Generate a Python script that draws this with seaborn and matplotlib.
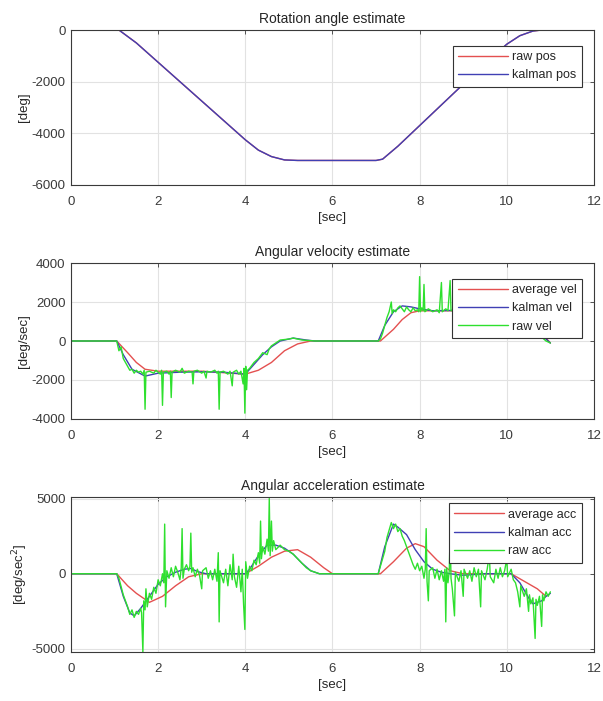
import matplotlib
matplotlib.use('Agg')
import matplotlib.pyplot as plt
import seaborn as sns

# Colours (MATLAB-ish)
RED = '#e45050'
BLUE = '#4040b4'
GREEN = '#2ee02e'

# -------------------------------------------------------------------------
# Data
# -------------------------------------------------------------------------
# Rotation angle [deg]
pos_t = [0, 1.1, 1.5, 2.0, 2.5, 3.0, 3.5, 4.0, 4.3, 4.6, 4.9, 5.2, 6.0, 7.0, 7.15,
         7.5, 8.0, 8.5, 9.0, 9.5, 10.0, 10.3, 10.6, 10.8, 11.0]
pos_raw = [0, 0, -500, -1250, -2000, -2750, -3500, -4250, -4650, -4900, -5030, -5050,
           -5050, -5050, -5000, -4500, -3700, -2900, -2100, -1300, -550, -220, -40, 0, 0]
pos_kal = [0, 0, -500, -1250, -2000, -2750, -3500, -4250, -4650, -4900, -5030, -5050,
           -5050, -5050, -5000, -4500, -3700, -2900, -2100, -1300, -550, -220, -40, 0, 0]

# Angular velocity [deg/sec]
vel_avg_t = [0, 1.05, 1.3, 1.5, 1.7, 2.0, 3.0, 4.0, 4.3, 4.6, 4.9, 5.2, 5.5, 7.0, 7.1,
             7.4, 7.6, 7.8, 8.0, 9.0, 10.0, 10.3, 10.6, 10.8, 11.0]
vel_avg = [0, 0, -600, -1100, -1450, -1550, -1550, -1700, -1500, -1100, -500, -150, 0,
           0, 0, 600, 1100, 1450, 1550, 1550, 1600, 1550, 1000, 400, -100]
vel_kal_t = [0, 1.05, 1.2, 1.4, 1.7, 2.0, 2.5, 3.0, 3.5, 4.0, 4.2, 4.4, 4.6, 4.8, 5.1,
             5.4, 5.6, 7.0, 7.05, 7.2, 7.4, 7.6, 7.8, 8.0, 8.3, 9.0, 10.0, 10.4, 10.6,
             10.8, 11.0]
vel_kal = [0, 0, -700, -1450, -1800, -1650, -1600, -1580, -1600, -1700, -1200, -700,
           -300, 0, 150, 50, 0, 0, 0, 800, 1500, 1800, 1750, 1650, 1550, 1580, 1600,
           1400, 700, 300, -100]
vel_raw_pts = [
    (0, 0), (1.05, 0), (1.1, -500), (1.15, -300), (1.2, -900), (1.25, -1100),
    (1.3, -1300), (1.35, -1500), (1.4, -1450), (1.45, -1650), (1.5, -1500),
    (1.55, -1600), (1.6, -1550), (1.65, -1700), (1.68, -1500), (1.7, -3500),
    (1.72, -1600), (1.8, -1550), (1.9, -1650), (1.95, -1500), (2.0, -1600),
    (2.05, -1700), (2.08, -1500), (2.1, -3300), (2.12, -1600), (2.2, -1550),
    (2.25, -1700), (2.28, -1550), (2.3, -2900), (2.32, -1600), (2.4, -1500),
    (2.5, -1600), (2.55, -1400), (2.6, -1650), (2.7, -1550), (2.78, -1600),
    (2.8, -2200), (2.82, -1550), (2.9, -1500), (3.0, -1650), (3.05, -1550),
    (3.1, -1900), (3.12, -1550), (3.2, -1600), (3.3, -1500), (3.35, -1650),
    (3.38, -1550), (3.4, -3500), (3.42, -1600), (3.5, -1550), (3.6, -1700),
    (3.65, -1550), (3.7, -2300), (3.72, -1600), (3.8, -1500), (3.85, -1700),
    (3.9, -1550), (3.95, -2200), (3.97, -1400), (3.99, -3700), (4.01, -1300),
    (4.03, -2500), (4.05, -1500), (4.1, -1400), (4.2, -1100), (4.3, -900),
    (4.4, -600), (4.5, -700), (4.55, -400), (4.6, -250), (4.7, -100), (4.8, 50),
    (5.0, 100), (5.1, 150), (5.3, 50), (5.6, 0), (7.05, 0),
    (7.1, 100), (7.15, 400), (7.2, 800), (7.25, 1200), (7.3, 1500), (7.35, 2000),
    (7.37, 1400), (7.4, 1600), (7.45, 1500), (7.5, 1700), (7.55, 1800),
    (7.6, 1650), (7.65, 1500), (7.7, 1750), (7.75, 1600), (7.8, 1500),
    (7.85, 1700), (7.9, 1550), (7.95, 1600), (7.98, 1500), (8.0, 3300),
    (8.02, 1500), (8.05, 1700), (8.08, 1550), (8.1, 2900), (8.12, 1500),
    (8.2, 1650), (8.3, 1500), (8.4, 1600), (8.45, 1450), (8.5, 3000),
    (8.52, 1500), (8.6, 1650), (8.65, 1550), (8.7, 3100), (8.72, 1550),
    (8.8, 1600), (9.0, 1500), (9.2, 1650), (9.4, 1550), (9.6, 1600), (9.8, 1550),
    (10.0, 1600), (10.2, 1500), (10.4, 1300), (10.5, 1000), (10.6, 700),
    (10.7, 400), (10.8, 200), (10.9, 0), (11.0, -100),
]

# Angular acceleration [deg/sec^2]
acc_avg_t = [0, 1.05, 1.3, 1.5, 1.8, 2.1, 2.4, 2.7, 3.0, 4.0, 4.3, 4.6, 4.9, 5.2, 5.5,
             5.8, 6.0, 7.1, 7.4, 7.7, 7.9, 8.1, 8.4, 8.7, 9.0, 10.1, 10.4, 10.7, 10.9]
acc_avg = [0, 0, -800, -1300, -1900, -1500, -800, -200, 0, 0, 500, 1100, 1500, 1600,
           1100, 400, 0, 0, 800, 1700, 2000, 1800, 900, 200, 0, 0, -500, -1000, -1500]
acc_kal_t = [0, 1.05, 1.2, 1.35, 1.45, 1.6, 1.8, 2.0, 2.2, 2.4, 2.6, 2.75, 2.9, 3.1,
             4.0, 4.1, 4.3, 4.5, 4.7, 4.9, 5.1, 5.3, 5.5, 5.7, 7.0, 7.05, 7.2, 7.4, 7.5,
             7.7, 7.9, 8.1, 8.3, 8.5, 8.7, 9.0, 9.5, 10.1, 10.3, 10.5, 10.6, 10.8,
             10.9, 11.0]
acc_kal = [0, 0, -1500, -2600, -2800, -2300, -1500, -700, -200, 100, 300, 350, 150, 0,
           0, 300, 1200, 1900, 1900, 1700, 1300, 700, 200, 0, 0, 0, 1800, 3300, 3100,
           2600, 1600, 800, 300, 100, 0, -100, 0, 0, -600, -1600, -2000, -1800, -1500,
           -1300]
acc_raw_pts = [
    (0, 0), (1.05, 0), (1.1, -300), (1.2, -1400), (1.3, -2200), (1.35, -2700),
    (1.4, -2400), (1.45, -2900), (1.5, -2500), (1.55, -2700), (1.6, -2300),
    (1.62, -2600), (1.65, -5200), (1.67, -1800), (1.7, -2400), (1.72, -1000),
    (1.75, -2200), (1.8, -1300), (1.85, -1700), (1.9, -900), (1.95, -1300),
    (2.0, -400), (2.05, -800), (2.1, 0), (2.13, -600), (2.15, 3300), (2.17, -2200),
    (2.2, 200), (2.25, -300), (2.3, 400), (2.35, -200), (2.4, 500), (2.45, 100),
    (2.5, -400), (2.53, 400), (2.55, 3000), (2.57, -300), (2.6, 300), (2.65, 600),
    (2.7, 200), (2.73, 500), (2.75, 2700), (2.77, 100), (2.8, 400), (2.85, -200),
    (2.9, 300), (2.95, -100), (3.0, -1000), (3.02, 200), (3.1, 400), (3.15, -300),
    (3.2, 200), (3.25, -400), (3.3, 300), (3.35, -500), (3.38, 1400), (3.4, -3200),
    (3.42, 200), (3.5, -600), (3.55, 300), (3.6, -800), (3.65, 600), (3.7, -400),
    (3.72, 1300), (3.75, -200), (3.8, -900), (3.85, 500), (3.9, -1200),
    (3.93, 300), (3.96, -2000), (3.99, -3700), (4.01, 800), (4.05, -300),
    (4.1, 500), (4.15, 200), (4.2, 900), (4.25, 600), (4.3, 1400), (4.33, 700),
    (4.35, 3500), (4.37, 1000), (4.4, 1800), (4.45, 1300), (4.5, 2300),
    (4.53, 1500), (4.55, 5000), (4.57, 1200), (4.6, 3500), (4.62, 1500),
    (4.65, 2200), (4.7, 1600), (4.8, 1900), (4.9, 1600), (5.0, 1500), (5.1, 1300),
    (5.2, 1000), (5.3, 700), (5.4, 400), (5.5, 200), (5.7, 0), (7.05, 0),
    (7.1, 500), (7.2, 1500), (7.25, 2400), (7.3, 2900), (7.35, 3400), (7.4, 3000),
    (7.45, 3300), (7.5, 2800), (7.55, 3000), (7.6, 2500), (7.65, 2200),
    (7.7, 1800), (7.75, 1400), (7.8, 1000), (7.85, 600), (7.9, 300), (7.95, 700),
    (8.0, 200), (8.05, 500), (8.1, -300), (8.13, 300), (8.15, 3000), (8.17, -500),
    (8.2, -1800), (8.22, 200), (8.3, 400), (8.35, -300), (8.4, 300), (8.45, -400),
    (8.5, 200), (8.55, -500), (8.58, 300), (8.6, -3200), (8.62, 400),
    (8.65, -600), (8.68, 200), (8.7, 2700), (8.72, -300), (8.75, -1000),
    (8.8, -2800), (8.82, 100), (8.9, -500), (8.95, 200), (9.0, -1500),
    (9.02, 300), (9.1, -300), (9.15, 200), (9.2, -500), (9.25, 400), (9.3, -200),
    (9.35, 300), (9.4, -2200), (9.42, 200), (9.5, -400), (9.55, 300),
    (9.6, 1300), (9.62, -200), (9.7, -600), (9.75, 300), (9.8, -300),
    (9.85, 400), (9.9, -200), (9.95, 200), (10.0, 1000), (10.02, -200),
    (10.1, 300), (10.15, -400), (10.2, -600), (10.25, -1200), (10.3, -2200),
    (10.32, -800), (10.4, -1500), (10.45, -1000), (10.5, -2500), (10.52, -1400),
    (10.55, -2000), (10.6, -1600), (10.65, -4300), (10.67, -1700), (10.7, -2100),
    (10.75, -1500), (10.8, -3500), (10.82, -1400), (10.85, -1800), (10.9, -1200),
    (10.95, -1500), (11.0, -1200),
]

vel_raw_t, vel_raw = zip(*vel_raw_pts)
acc_raw_t, acc_raw = zip(*acc_raw_pts)

# -------------------------------------------------------------------------
# Figure
# -------------------------------------------------------------------------
sns.set_theme(style='whitegrid')
plt.rcParams['font.family'] = ['Liberation Sans', 'DejaVu Sans']
plt.rcParams['axes.unicode_minus'] = False

TXT = '#262626'

fig = plt.figure(figsize=(6.03, 7.01), dpi=100)
ax_pos = fig.add_axes([0.1177, 0.7361, 0.8673, 0.2211])
ax_vel = fig.add_axes([0.1177, 0.4023, 0.8673, 0.2225])
ax_acc = fig.add_axes([0.1177, 0.0699, 0.8673, 0.2211])


def style_axes(ax, title, ylabel, ylim, yticks, leg_y):
    ax.set_xlim(0, 12)
    ax.set_xticks(range(0, 13, 2))
    ax.set_ylim(*ylim)
    ax.set_yticks(yticks)
    ax.set_title(title, fontsize=10, color=TXT, pad=5)
    ax.set_xlabel('[sec]', fontsize=9.5, color=TXT, labelpad=3)
    ax.set_ylabel(ylabel, fontsize=9.5, color=TXT, labelpad=1)
    ax.grid(True, color='#e2e2e2', lw=0.8)
    ax.tick_params(direction='in', length=3, width=0.6, labelsize=9.5,
                   colors='#3a3a3a', top=True, right=True)
    ax.tick_params(axis='x', pad=8)
    ax.tick_params(axis='y', pad=4)
    for sp in ax.spines.values():
        sp.set_color('#3a3a3a')
        sp.set_linewidth(0.8)
    leg = ax.legend(loc='upper right', bbox_to_anchor=(0.977, leg_y), fontsize=9,
                    handlelength=4.0, fancybox=False, framealpha=1, borderpad=0.45,
                    labelspacing=0.5, handletextpad=0.3, borderaxespad=0)
    leg.get_frame().set_edgecolor('#333333')
    leg.get_frame().set_linewidth(0.8)


# Rotation angle
sns.lineplot(x=pos_t, y=pos_raw, ax=ax_pos, color=RED, lw=1.0, label='raw pos')
sns.lineplot(x=pos_t, y=pos_kal, ax=ax_pos, color=BLUE, lw=1.0, label='kalman pos')
style_axes(ax_pos, 'Rotation angle estimate', '[deg]', (-6000, 0),
           [-6000, -4000, -2000, 0], 0.90)

# Angular velocity
sns.lineplot(x=vel_avg_t, y=vel_avg, ax=ax_vel, color=RED, lw=1.0, label='average vel')
sns.lineplot(x=vel_kal_t, y=vel_kal, ax=ax_vel, color=BLUE, lw=1.0, label='kalman vel')
sns.lineplot(x=list(vel_raw_t), y=list(vel_raw), ax=ax_vel, color=GREEN, lw=1.0,
             label='raw vel', sort=False, estimator=None)
style_axes(ax_vel, 'Angular velocity estimate', '[deg/sec]', (-4000, 4000),
           [-4000, -2000, 0, 2000, 4000], 0.90)

# Angular acceleration
sns.lineplot(x=acc_avg_t, y=acc_avg, ax=ax_acc, color=RED, lw=1.0, label='average acc')
sns.lineplot(x=acc_kal_t, y=acc_kal, ax=ax_acc, color=BLUE, lw=1.0, label='kalman acc')
sns.lineplot(x=list(acc_raw_t), y=list(acc_raw), ax=ax_acc, color=GREEN, lw=1.0,
             label='raw acc', sort=False, estimator=None)
style_axes(ax_acc, 'Angular acceleration estimate', '[deg/sec$^2$]', (-5200, 5100),
           [-5000, 0, 5000], 0.96)

fig.savefig('out.png', dpi=100)
